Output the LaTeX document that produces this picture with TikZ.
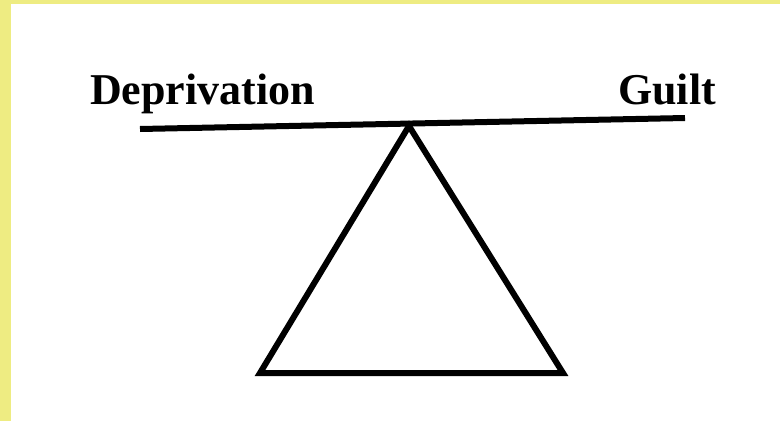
\documentclass[tikz,border=0pt]{standalone}
\usepackage{fontspec}
\setmainfont{Liberation Serif}
\definecolor{frameyellow}{RGB}{238,236,130}

\begin{document}
\begin{tikzpicture}[
  x=1pt, y=-1pt,
  font=\fontsize{44}{50}\selectfont\bfseries,
  word/.style={anchor=base west, inner sep=0pt},
  thick line/.style={line width=6pt, line join=miter, line cap=butt}
]

% ----- Frame: yellow strip on top and left, white canvas
\useasboundingbox (0,0) rectangle (780,421);
\fill[frameyellow] (0,0) rectangle (780,421);
\fill[white] (11,4) rectangle (780,421);

% ----- Fixed coordinates
\coordinate (beamL) at (140,129);
\coordinate (beamR) at (685,118);
\coordinate (apex)  at (409,126);
\coordinate (baseL) at (260,373);
\coordinate (baseR) at (563,373);

% ----- Labels
\node[word] at (90,104) (depr) {Deprivation};
\node[word] at (618,104) (guilt) {Guilt};

% ----- Beam and fulcrum
\draw[thick line] (beamL) -- (beamR);
\draw[thick line] (apex) -- (baseR) -- (baseL) -- cycle;

\end{tikzpicture}
\end{document}
